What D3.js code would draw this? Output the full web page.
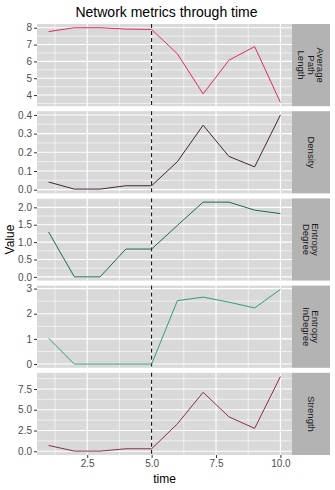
<!DOCTYPE html>
<html>
<head>
<meta charset="utf-8">
<script src="https://cdn.jsdelivr.net/npm/d3@7"></script>
<style>
  body { margin: 0; background: #fff; }
  text { font-family: "Liberation Sans", Arial, sans-serif; }
</style>
</head>
<body>
<div id="graph"></div>
<script>
// time steps and metric values
var time = [1, 2, 3, 4, 5, 6, 7, 8, 9, 10];
var metrics = ["Average\nPath\nLength", "Density", "Entropy\nDegree", "Entropy\nInDegree", "Strength"];
var avgPathLength = [7.77, 8.0, 8.0, 7.92, 7.9, 6.45, 4.07, 6.07, 6.88, 3.56];
var density = [0.041, 0.003, 0.003, 0.021, 0.021, 0.15, 0.345, 0.178, 0.122, 0.40];
var entropyDegree = [1.29, 0.0, 0.0, 0.8, 0.8, 1.48, 2.15, 2.15, 1.92, 1.82];
var entropyInDegree = [1.03, 0.0, 0.0, 0.0, 0.0, 2.52, 2.66, 2.46, 2.23, 2.97];
var strength = [0.7, 0.02, 0.02, 0.3, 0.3, 3.3, 7.1, 4.15, 2.75, 9.0];
var seriesColors = ["#dc2e5c", "#3e2936", "#1b6b4e", "#2f9f77", "#8a3050"];

// tick labels for each panel
var xTicks = [2.5, 5.0, 7.5, 10.0];
var yTicks = [
  [4, 5, 6, 7, 8],
  [0.0, 0.1, 0.2, 0.3, 0.4],
  [0.0, 0.5, 1.0, 1.5, 2.0],
  [0, 1, 2, 3],
  [0.0, 2.5, 5.0, 7.5]
];
var yFormats = ["d", ".1f", ".1f", "d", ".1f"];
var cutTime = 5;

var series = [avgPathLength, density, entropyDegree, entropyInDegree, strength];

var W = 335, H = 490;
var margin = {top: 24, bottom: 455, left: 37, right: 292};
var stripW = 38, gap = 5;
var panelH = (margin.bottom - margin.top - gap * 4) / 5;

var svg = d3.select("#graph").append("svg")
  .attr("width", W).attr("height", H);

var x = d3.scaleLinear().domain([0.55, 10.45]).range([margin.left, margin.right]);

svg.append("text")
  .attr("x", (margin.left + margin.right) / 2 + 2).attr("y", 17)
  .attr("text-anchor", "middle")
  .attr("font-size", 14).attr("fill", "#000")
  .text("Network metrics through time");

series.forEach(function (vals, i) {
  var y0 = margin.top + i * (panelH + gap);
  var ext = d3.extent(i == 0 ? vals : vals.concat([0]));
  var pad = (ext[1] - ext[0]) * 0.05;
  var y = d3.scaleLinear()
    .domain([ext[0] - pad, ext[1] + pad])
    .range([y0 + panelH, y0]);

  var g = svg.append("g");

  // panel background
  g.append("rect")
    .attr("x", margin.left).attr("y", y0)
    .attr("width", margin.right - margin.left).attr("height", panelH)
    .attr("fill", "#d9d9d9");

  // minor grid
  var yt = yTicks[i];
  var step = yt[1] - yt[0];
  var minorY = [];
  for (var k = -1; k < yt.length; k++) {
    var v = yt[0] + step * (k + 0.5);
    if (v > y.domain()[0] && v < y.domain()[1]) minorY.push(v);
  }
  g.selectAll(".ymin").data(minorY).enter().append("line")
    .attr("x1", margin.left).attr("x2", margin.right)
    .attr("y1", function (d) { return y(d); }).attr("y2", function (d) { return y(d); })
    .attr("stroke", "#fff").attr("stroke-width", 0.6);
  var minorX = [1.25, 3.75, 6.25, 8.75];
  g.selectAll(".xmin").data(minorX).enter().append("line")
    .attr("x1", function (d) { return x(d); }).attr("x2", function (d) { return x(d); })
    .attr("y1", y0).attr("y2", y0 + panelH)
    .attr("stroke", "#fff").attr("stroke-width", 0.6);

  // major grid
  g.selectAll(".ymaj").data(yt).enter().append("line")
    .attr("x1", margin.left).attr("x2", margin.right)
    .attr("y1", function (d) { return y(d); }).attr("y2", function (d) { return y(d); })
    .attr("stroke", "#fff").attr("stroke-width", 1.1);
  g.selectAll(".xmaj").data(xTicks).enter().append("line")
    .attr("x1", function (d) { return x(d); }).attr("x2", function (d) { return x(d); })
    .attr("y1", y0).attr("y2", y0 + panelH)
    .attr("stroke", "#fff").attr("stroke-width", 1.1);

  // y axis
  var ax = g.append("g")
    .attr("transform", "translate(" + margin.left + ",0)")
    .call(d3.axisLeft(y).tickValues(yt).tickSize(3).tickPadding(2).tickFormat(d3.format(yFormats[i])));
  ax.select(".domain").remove();
  ax.selectAll(".tick line").attr("stroke", "#333");
  ax.selectAll(".tick text").attr("fill", "#4d4d4d").attr("font-size", 10).style("font-family", "Liberation Sans, Arial, sans-serif");

  // dashed cut line
  g.append("line")
    .attr("x1", x(cutTime)).attr("x2", x(cutTime))
    .attr("y1", y0).attr("y2", y0 + panelH)
    .attr("stroke", "#000").attr("stroke-width", 1)
    .attr("stroke-dasharray", "4,3");

  // series line
  g.append("path")
    .datum(vals)
    .attr("fill", "none")
    .attr("stroke", seriesColors[i])
    .attr("stroke-width", 1)
    .attr("d", d3.line()
      .x(function (d, j) { return x(time[j]); })
      .y(function (d) { return y(d); }));

  // facet strip
  g.append("rect")
    .attr("x", margin.right).attr("y", y0)
    .attr("width", stripW).attr("height", panelH)
    .attr("fill", "#b3b3b3");
  var lines = metrics[i].split("\n");
  var cx = margin.right + stripW / 2, cy = y0 + panelH / 2;
  var st = g.append("text")
    .attr("transform", "translate(" + cx + "," + cy + ") rotate(90)")
    .attr("text-anchor", "middle")
    .attr("font-size", 9.5).attr("fill", "#1a1a1a");
  lines.forEach(function (l, j) {
    st.append("tspan")
      .attr("x", 0)
      .attr("y", (j - (lines.length - 1) / 2) * 9.5 + 3.3)
      .text(l);
  });
});

// x axis under last panel
var xa = svg.append("g")
  .attr("transform", "translate(0," + margin.bottom + ")")
  .call(d3.axisBottom(x).tickValues(xTicks).tickSize(3).tickPadding(2).tickFormat(d3.format(".1f")));
xa.select(".domain").remove();
xa.selectAll(".tick line").attr("stroke", "#333");
xa.selectAll(".tick text").attr("fill", "#4d4d4d").attr("font-size", 10).style("font-family", "Liberation Sans, Arial, sans-serif");

svg.append("text")
  .attr("x", (margin.left + margin.right) / 2).attr("y", 483)
  .attr("text-anchor", "middle")
  .attr("font-size", 12).attr("fill", "#000")
  .text("time");

svg.append("text")
  .attr("transform", "translate(14," + (margin.top + margin.bottom) / 2 + ") rotate(-90)")
  .attr("text-anchor", "middle")
  .attr("font-size", 12).attr("fill", "#000")
  .text("Value");
</script>
</body>
</html>
